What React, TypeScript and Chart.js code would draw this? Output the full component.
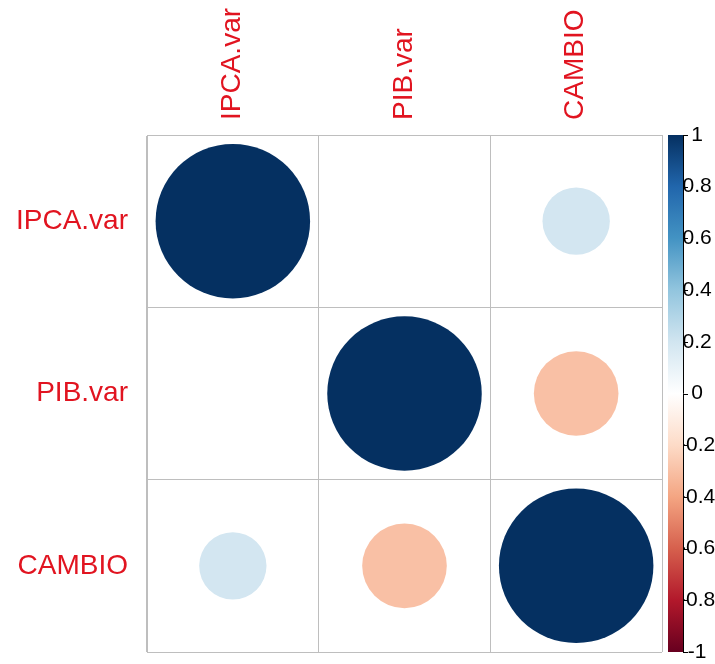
import React, { useEffect, useRef } from "react";
import { Chart, registerables } from "chart.js";

Chart.register(...registerables);

const variables = ["IPCA.var", "PIB.var", "CAMBIO"];
const ipcaCorr = [1, 0, 0.19];
const pibCorr = [0, 1, -0.3];
const cambioCorr = [0.19, -0.3, 1];
const colorbarTicks = [-1, -0.8, -0.6, -0.4, -0.2, 0, 0.2, 0.4, 0.6, 0.8, 1];
const palette = [
  "#67001F", "#B2182B", "#D6604D", "#F4A582", "#FDDBC7", "#FFFFFF",
  "#D1E5F0", "#92C5DE", "#4393C3", "#2166AC", "#053061",
];

const labelRed = "rgb(225,20,32)";
const fontFamily = "'Liberation Sans', Arial, sans-serif";

function hexToRgb(h: string) {
  return [parseInt(h.slice(1, 3), 16), parseInt(h.slice(3, 5), 16), parseInt(h.slice(5, 7), 16)];
}

function colorFor(v: number) {
  const t = Math.max(0, Math.min(1, (v + 1) / 2)) * (palette.length - 1);
  const i = Math.min(palette.length - 2, Math.floor(t));
  const f = t - i;
  const a = hexToRgb(palette[i]);
  const b = hexToRgb(palette[i + 1]);
  const c = a.map((x, k) => Math.round(x + (b[k] - x) * f));
  return `rgb(${c[0]},${c[1]},${c[2]})`;
}

const rows = [ipcaCorr, pibCorr, cambioCorr];

const colorbarPlugin = {
  id: "colorbar",
  afterDraw(chart: any) {
    const cb = chart.scales.cb;
    const area = chart.chartArea;
    const ctx = chart.ctx;
    const top = cb.getPixelForValue(1);
    const bottom = cb.getPixelForValue(-1);
    const left = area.right + 6;
    const right = area.right + 21;
    const grad = ctx.createLinearGradient(0, bottom, 0, top);
    palette.forEach((c, i) => grad.addColorStop(i / (palette.length - 1), c));
    ctx.save();
    ctx.fillStyle = grad;
    ctx.fillRect(left, top, right - left, bottom - top);
    ctx.strokeStyle = "#000";
    ctx.lineWidth = 1;
    ctx.beginPath();
    ctx.moveTo(right + 0.5, top);
    ctx.lineTo(right + 0.5, bottom);
    colorbarTicks.forEach((v) => {
      const y = Math.round(cb.getPixelForValue(v)) + 0.5;
      ctx.moveTo(right, y);
      ctx.lineTo(right + 5, y);
    });
    ctx.stroke();
    ctx.restore();
  },
};

function zeroPad(s: any) {
  s.paddingTop = 0;
  s.paddingBottom = 0;
  s.paddingLeft = 0;
  s.paddingRight = 0;
}

export default function App() {
  const ref = useRef<HTMLCanvasElement | null>(null);
  useEffect(() => {
    document.body.style.margin = "0";
    document.body.style.overflow = "hidden";
    const data: any[] = [];
    const values: number[] = [];
    rows.forEach((row, r) => {
      row.forEach((v, c) => {
        data.push({ x: variables[c], y: variables[r], r: 0 });
        values.push(v);
      });
    });
    const chart: any = new Chart(ref.current as HTMLCanvasElement, {
      type: "bubble",
      data: {
        datasets: [
          {
            data,
            xAxisID: "x",
            yAxisID: "y",
            borderWidth: 0,
            clip: false,
            backgroundColor: values.map(colorFor),
          } as any,
        ],
      },
      options: {
        responsive: false,
        animation: false,
        events: [],
        layout: { padding: { bottom: 12, top: 0, left: 0, right: 0 } },
        plugins: { legend: { display: false }, tooltip: { enabled: false }, title: { display: false } },
        scales: {
          x: {
            type: "category",
            labels: variables,
            position: "top",
            offset: true,
            grid: { offset: true, color: "#BEBEBE", drawTicks: false, lineWidth: 1 },
            border: { display: true, color: "#BEBEBE" },
            ticks: {
              color: labelRed,
              font: { family: fontFamily, size: 28 },
              minRotation: 90,
              maxRotation: 90,
              padding: 15,
              labelOffset: 33,
              autoSkip: false,
            },
            afterFit: (s: any) => {
              s.height = 135;
              zeroPad(s);
            },
          },
          y: {
            type: "category",
            labels: variables,
            position: "left",
            offset: true,
            grid: { offset: true, color: "#BEBEBE", drawTicks: false, lineWidth: 1 },
            border: { display: true, color: "#BEBEBE" },
            ticks: {
              color: labelRed,
              font: { family: fontFamily, size: 28 },
              padding: 19,
              autoSkip: false,
            },
            afterFit: (s: any) => {
              s.width = 147;
              zeroPad(s);
            },
          },
          cb: {
            type: "linear",
            axis: "y",
            position: "right",
            min: -1,
            max: 1,
            grid: { display: false, drawTicks: false, drawOnChartArea: false },
            border: { display: false },
            ticks: {
              color: "#000",
              font: { family: fontFamily, size: 21 },
              padding: 17,
              crossAlign: "center",
              callback: (v: any) => String(v),
            },
            afterBuildTicks: (s: any) => {
              s.ticks = colorbarTicks.map((v) => ({ value: v }));
            },
            afterFit: (s: any) => {
              s.width = 53;
              zeroPad(s);
            },
          } as any,
        },
      } as any,
      plugins: [colorbarPlugin],
    });
    // bubbles must not shrink the plot area: the grid is fixed like corrplot's
    const ctrl = chart.getDatasetMeta(0).controller;
    ctrl.getMaxOverflow = () => 0;
    // size circles from the x scale's cell width (corrplot: radius = 0.45 * cell * sqrt(|r|))
    const xs = chart.scales.x;
    const cell = xs.width / variables.length;
    data.forEach((d, i) => {
      d.r = Math.sqrt(Math.abs(values[i])) * 0.45 * cell;
    });
    chart.update();
    return () => chart.destroy();
  }, []);
  return <canvas ref={ref} width={715} height={664} style={{ display: "block" }} />;
}
